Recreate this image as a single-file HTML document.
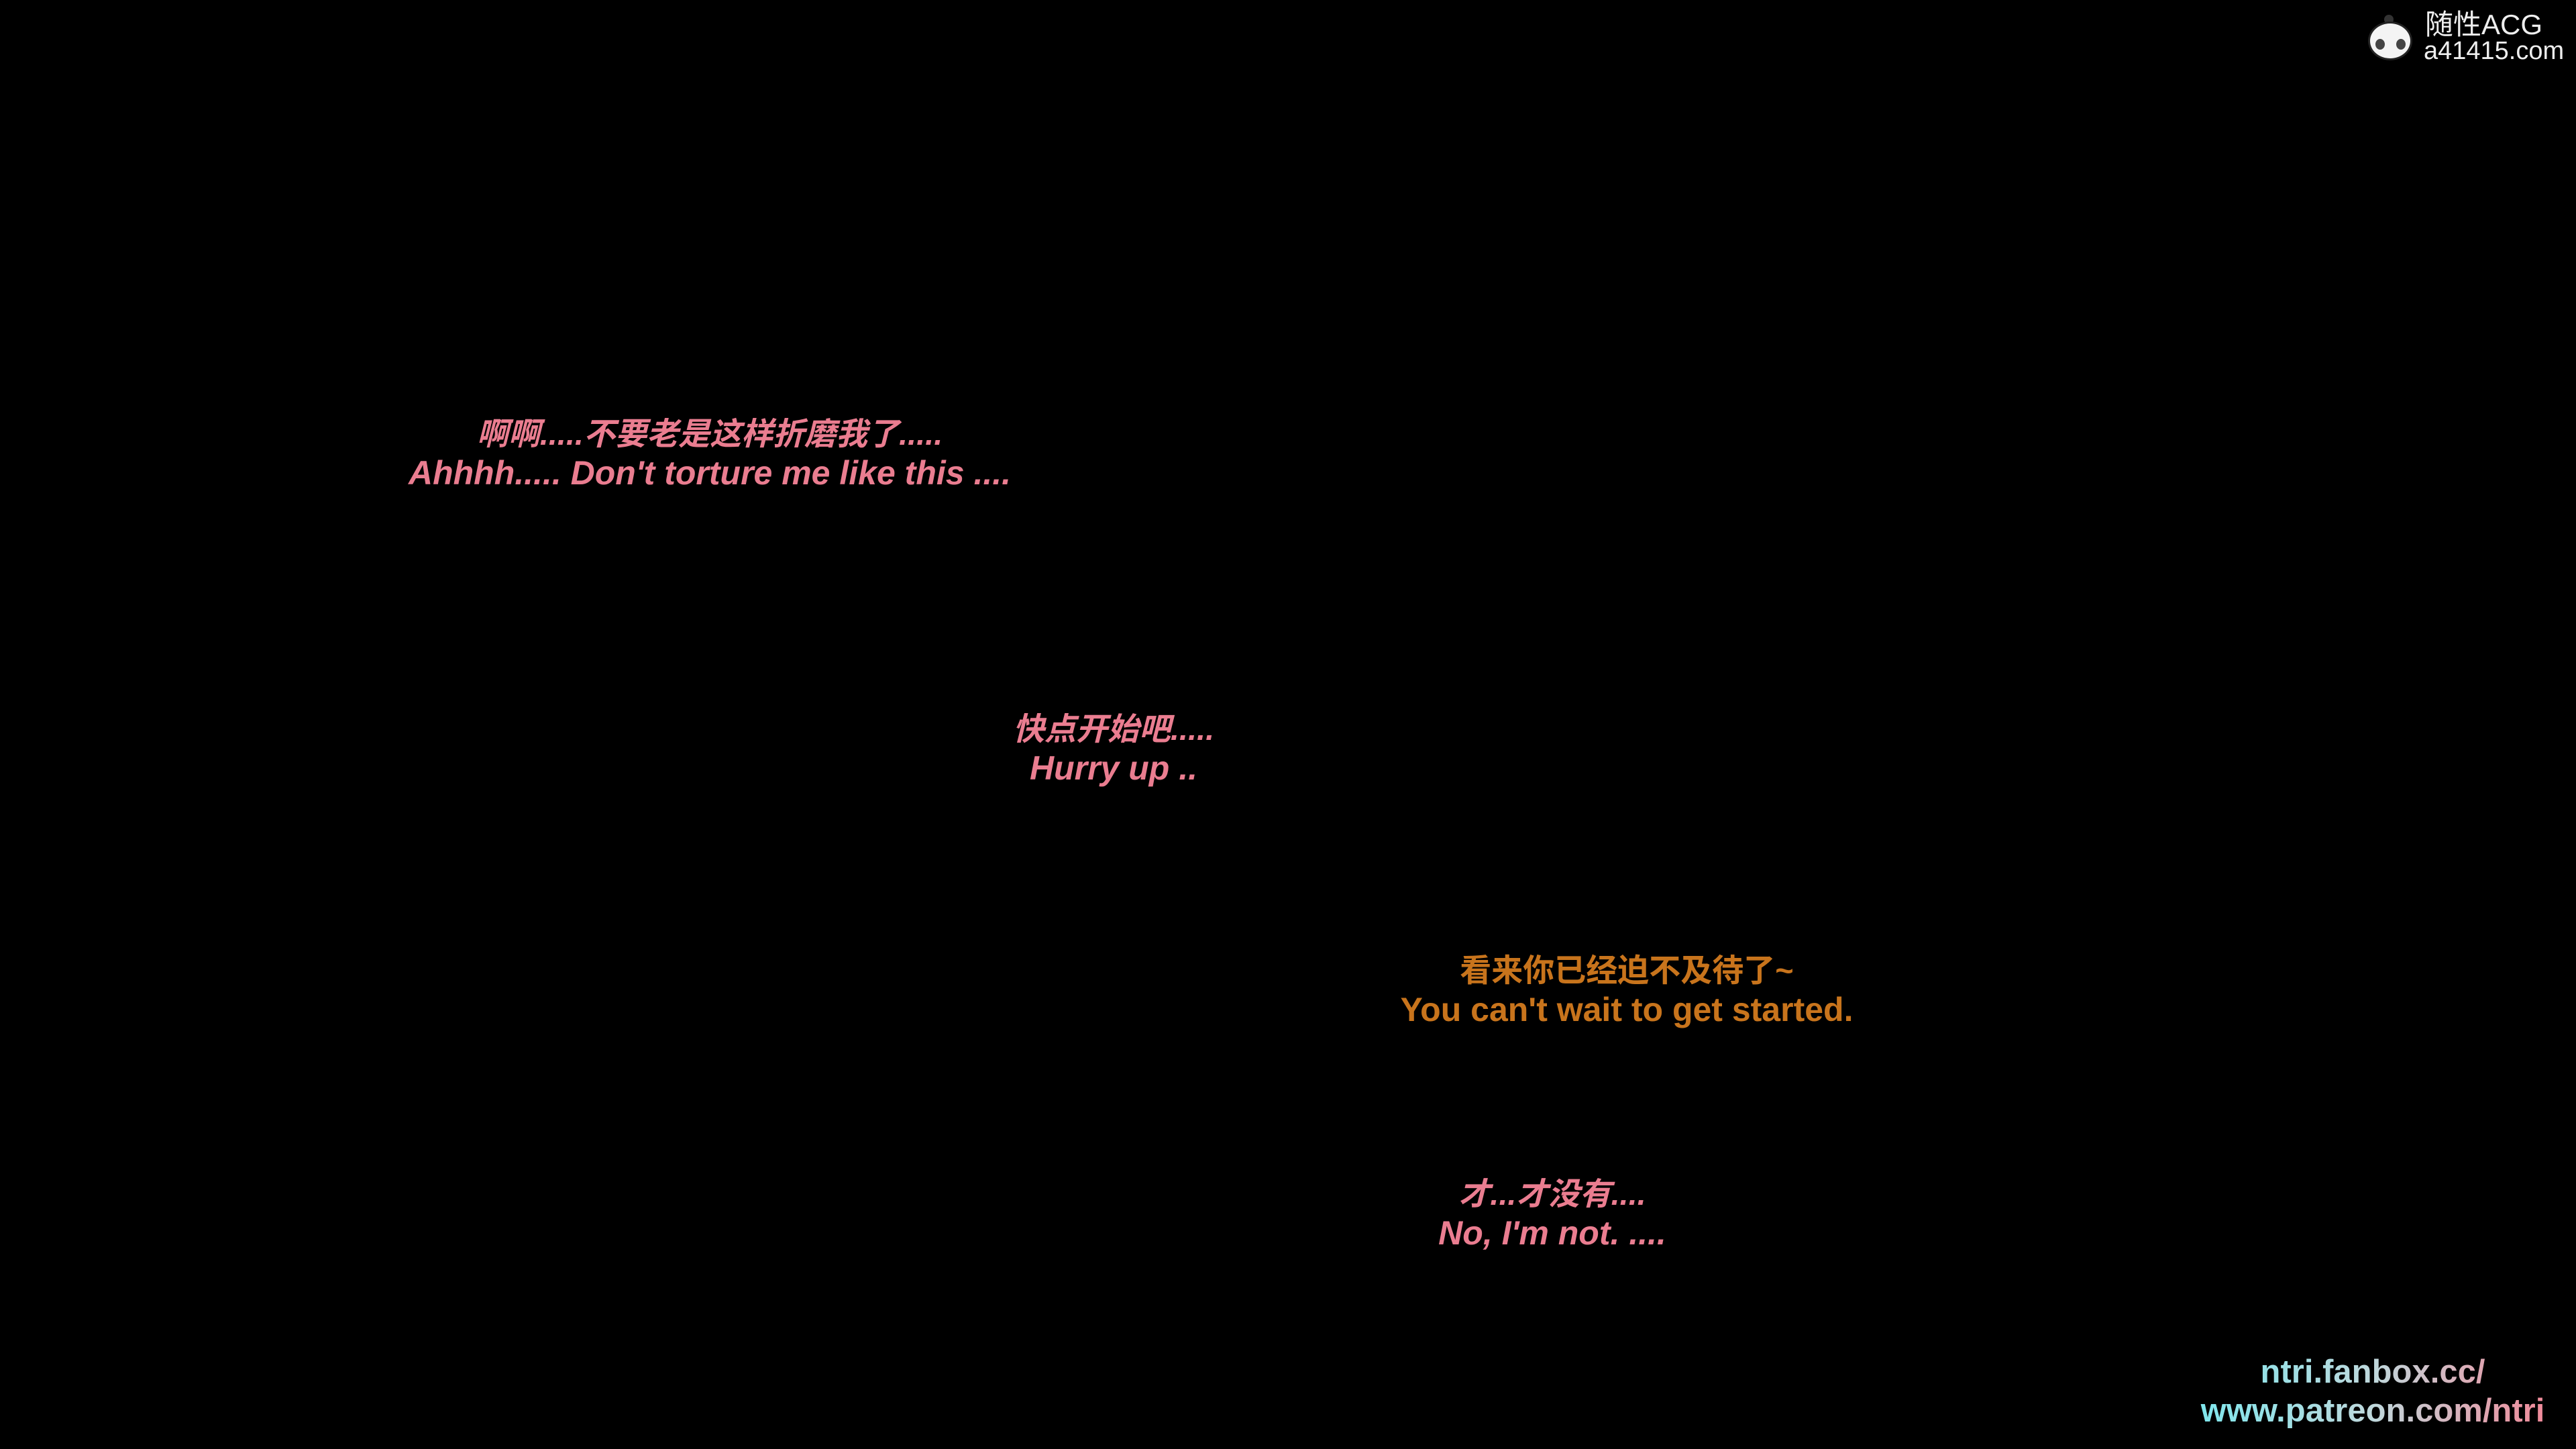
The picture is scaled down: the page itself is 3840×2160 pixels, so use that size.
<!DOCTYPE html>
<html><head><meta charset="utf-8"><style>
html,body{margin:0;padding:0;background:#000;}
body{width:3840px;height:2160px;position:relative;overflow:hidden;}
.t{position:absolute;transform:translateX(-50%);white-space:nowrap;text-align:center;font-family:"Liberation Sans","Noto Sans CJK SC",sans-serif;font-weight:bold;line-height:58px;}
.t div{height:58px;}
.pk{color:#ea7d90;font-style:italic;}
.pk .c{font-size:47px;}
.pk .e{font-size:50px;}
.or{color:#c8741c;}
.or .c{font-size:47px;}
.or .e{font-size:50px;}
.ft{font-size:49px;line-height:58px;background:linear-gradient(90deg,#7fe6ec 0%,#bfd8dc 50%,#f08a9a 100%);-webkit-background-clip:text;background-clip:text;color:transparent;}
.logo{position:absolute;left:3615px;top:17px;color:#eee;font-family:"Liberation Sans","Noto Sans CJK SC",sans-serif;font-size:42px;line-height:40px;}
.logo2{font-size:38px;line-height:38px;margin-left:-2px;}
.panda{position:absolute;left:3530px;top:22px;width:66px;height:70px;}
</style></head><body>
<div class="t pk" style="left:1058px;top:618px;"><div class="c">啊啊.....不要老是这样折磨我了.....</div><div class="e">Ahhhh..... Don't torture me like this ....</div></div>
<div class="t pk" style="left:1660px;top:1058px;"><div class="c">快点开始吧.....</div><div class="e">Hurry up ..</div></div>
<div class="t or" style="left:2425px;top:1418px;"><div class="c">看来你已经迫不及待了~</div><div class="e">You can't wait to get started.</div></div>
<div class="t pk" style="left:2314px;top:1751px;"><div class="c">才...才没有....</div><div class="e">No, I'm not. ....</div></div>
<div class="t ft" style="left:3537px;top:2016px;">ntri.fanbox.cc/<br>www.patreon.com/ntri</div>
<div class="panda">
<div style="position:absolute;left:24px;top:0;width:14px;height:14px;border-radius:50%;background:#333;"></div>
<div style="position:absolute;left:0;top:10px;width:66px;height:58px;border-radius:50%;background:#f4f4f4;border:3px solid #222;box-sizing:border-box;"></div>
<div style="position:absolute;left:11px;top:36px;width:14px;height:16px;border-radius:50%;background:#444;"></div>
<div style="position:absolute;left:42px;top:36px;width:14px;height:16px;border-radius:50%;background:#444;"></div>
</div>
<div class="logo">随性ACG<div class="logo2">a41415.com</div></div>
</body></html>
